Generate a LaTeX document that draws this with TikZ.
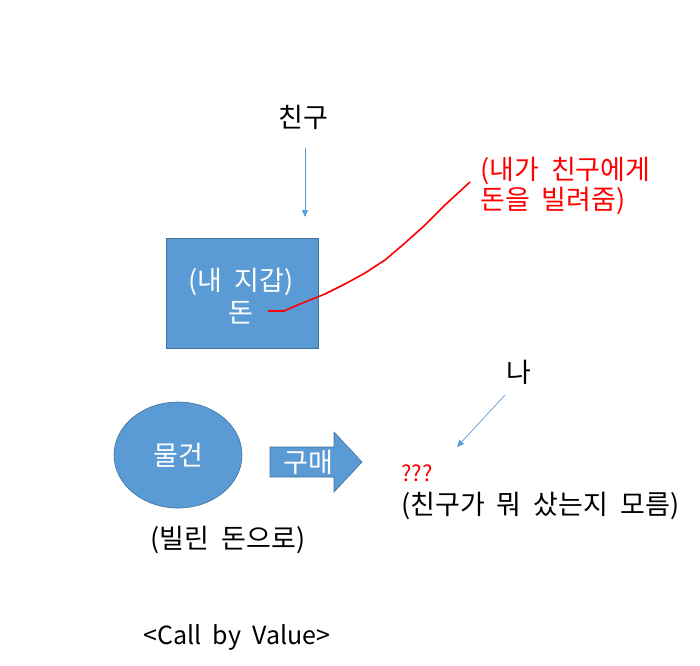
\documentclass[tikz,border=0pt]{standalone}
\usepackage{fontspec}
\setmainfont[WordSpace=2.0]{Noto Sans CJK KR}
\usetikzlibrary{arrows.meta,shapes.geometric}
\definecolor{blu}{HTML}{5B9BD5}
\definecolor{blub}{HTML}{41719C}
\definecolor{redt}{HTML}{FF0000}
\begin{document}
\begin{tikzpicture}[x=1pt,y=-1pt,
  lbl/.style={font=\fontsize{27}{30}\selectfont, inner sep=0pt},
  wlbl/.style={lbl, text=white},
  rlbl/.style={lbl, text=redt, align=left},
  shp/.style={fill=blu, draw=blub, line width=0.6pt},
  conn/.style={draw=blu, line width=0.7pt, -{Triangle[length=7pt,width=6pt]}}]
\useasboundingbox (0,0) rectangle (700,665);
% friend
\node[lbl] (friend) at (303,117) {친구};
\coordinate (fa) at (305,148);
\node[shp, minimum width=152pt, minimum height=110pt, inner sep=0pt] (wallet) at (242,293) {};
\node[wlbl, align=center, font=\fontsize{27}{32}\selectfont] (wtext) at (241,296) {(내 지갑)\\돈};
\coordinate (fb) at (305,217);
\draw[conn] (fa) -- (fb);
% red note
\node[rlbl, anchor=west] (note) at (480,186) {(내가 친구에게\\돈을 빌려줌)};
\coordinate (r0) at (268,311);
\coordinate (r1) at (470,182);
\draw[redt, line width=1.6pt, line join=round] (r0) -- (284,311) -- (300,304) -- (325,294) -- (345,284) -- (365,273) -- (385,260) -- (405,243) -- (425,225) -- (445,205) -- (r1);
% item
\node[shp, ellipse, minimum width=128pt, minimum height=106pt, inner sep=0pt] (item) at (178,455) {};
\node[wlbl] (itemt) at (178,455) {물건};
% buy arrow
\draw[shp] (270,447) -- (334,447) -- (334,432) -- (362,462) -- (334,492) -- (334,477) -- (270,477) -- cycle;
\coordinate (buyc) at (308,462);
\node[wlbl] (buy) at (buyc) {구매};
% me
\node[lbl] (me) at (519,372) {나};
\coordinate (ma) at (505,395);
\coordinate (mb) at (457,447);
\draw[conn] (ma) -- (mb);
\node[lbl, text=redt, font=\fontsize{22}{24}\selectfont, anchor=west] (qq) at (401,473) {???};
\node[lbl, anchor=west] (unk) at (401,506) {(친구가 뭐 샀는지 모름)};
\node[lbl] (borrow) at (228,540) {(빌린 돈으로)};
\node[lbl, font=\fontsize{25}{28}\selectfont] (title) at (237,637) {<Call by Value>};
\end{tikzpicture}
\end{document}
